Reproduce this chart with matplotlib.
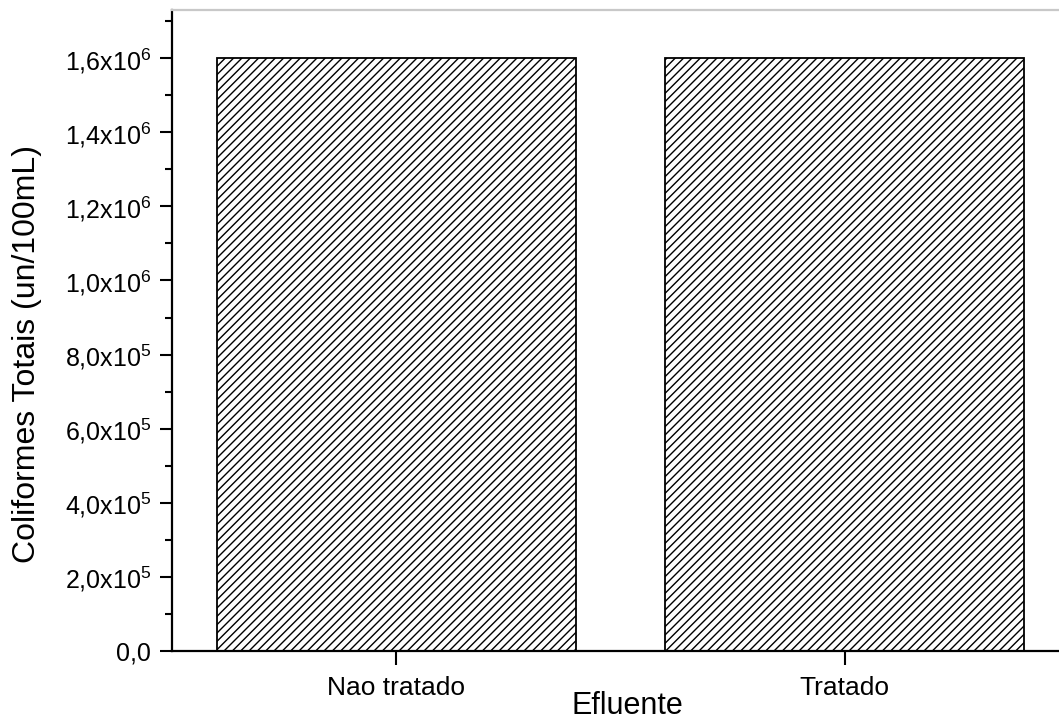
import matplotlib

matplotlib.use("Agg")
import matplotlib.pyplot as plt
from matplotlib.ticker import FixedLocator, FuncFormatter

categories = ["Nao tratado", "Tratado"]
coliformes = [1.6e6, 1.6e6]
major_ticks = [0, 2e5, 4e5, 6e5, 8e5, 1.0e6, 1.2e6, 1.4e6, 1.6e6]

plt.rcParams.update({
    "font.family": ["Liberation Sans", "DejaVu Sans"],
    "mathtext.fontset": "custom",
    "mathtext.rm": "Liberation Sans",
    "mathtext.it": "Liberation Sans:italic",
    "mathtext.bf": "Liberation Sans:bold",
    "hatch.linewidth": 1.0,
    "hatch.color": "#2a2a2a",
})


def sci_label(v, _):
    if v == 0:
        return "0,0"
    exp = len(str(int(v))) - 1
    mant = f"{v / 10 ** exp:.1f}".replace(".", ",")
    return f"{mant}x$10^{{{exp}}}$"


fig = plt.figure(figsize=(10.59, 7.2), dpi=100)
ax = fig.add_axes([0.1624, 0.0958, 0.847, 0.8903])

x = range(len(categories))
ax.bar(x, coliformes, width=0.8, color="white", edgecolor="black",
       linewidth=1.3, hatch="////")

ax.set_xlim(-0.5, 1.5)
ax.set_ylim(0, 1.73e6)
ax.set_xticks(list(x), categories)
ax.yaxis.set_major_locator(FixedLocator(major_ticks))
ax.yaxis.set_minor_locator(FixedLocator([v + 1e5 for v in major_ticks]))
ax.yaxis.set_major_formatter(FuncFormatter(sci_label))

ax.tick_params(axis="y", which="major", direction="out", length=9, width=1.5,
               labelsize=18, pad=6)
ax.tick_params(axis="y", which="minor", direction="out", length=5, width=1.5)
ax.tick_params(axis="x", direction="out", length=10, width=1.5, labelsize=19, pad=8)

for side in ("left", "bottom"):
    ax.spines[side].set_linewidth(1.6)
ax.spines["top"].set_color("#c8c8c8")
ax.spines["top"].set_linewidth(1.6)
ax.spines["right"].set_visible(False)

ax.set_ylabel("Coliformes Totais (un/100mL)", fontsize=23)
ax.yaxis.set_label_coords(-0.145, 0.463)
ax.set_xlabel("Efluente", fontsize=22)
ax.xaxis.set_label_coords(0.508, -0.062)

fig.savefig("out.png", dpi=100)
